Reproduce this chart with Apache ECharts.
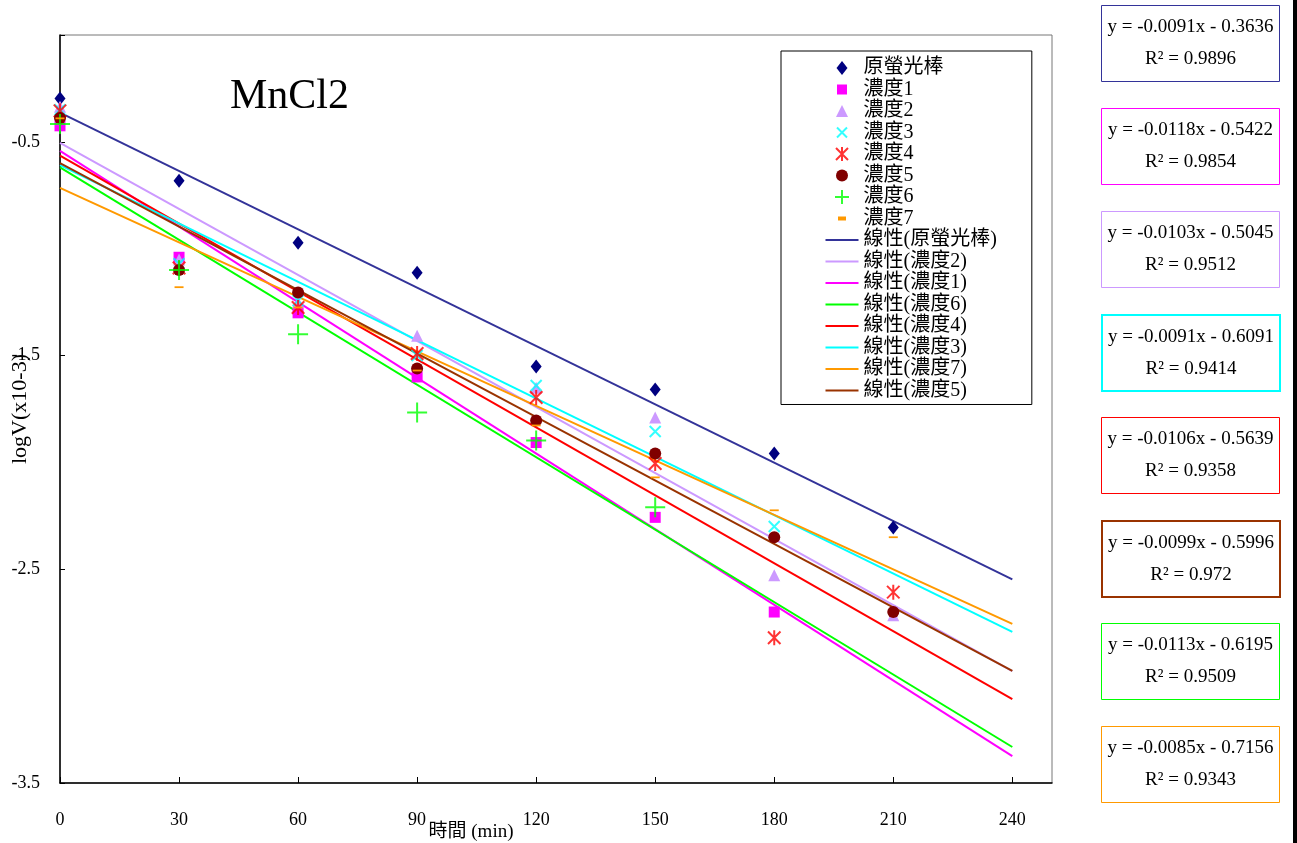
<!DOCTYPE html>
<html>
<head>
<meta charset="utf-8">
<script src="https://cdn.jsdelivr.net/npm/echarts@6/dist/echarts.min.js"></script>
<style>
  html, body { margin: 0; padding: 0; background: #fff; }
  #chart { width: 1297px; height: 843px; }
</style>
</head>
<body>
<div id="chart"></div>
<script>
var FONT = "'Liberation Serif', 'Noto Sans CJK TC', serif"

// 測定時間 (min)
var times = [0, 30, 60, 90, 120, 150, 180, 210]
var names = ['原螢光棒', '濃度1', '濃度2', '濃度3', '濃度4', '濃度5', '濃度6', '濃度7']
// logV values
var v0 = [-0.297, -0.682, -0.972, -1.112, -1.551, -1.659, -1.958, -2.304]
var v1 = [-0.425, -1.04, -1.30, -1.60, -1.907, -2.257, -2.70]
var v2 = [-0.336, -1.05, -1.25, -1.407, -1.65, -1.79, -2.528, -2.715]
var v3 = [-0.35, -1.07, -1.243, -1.50, -1.64, -1.855, -2.30]
var v4 = [-0.355, -1.09, -1.275, -1.49, -1.696, -2.005, -2.82, -2.607]
var v5 = [-0.388, -1.10, -1.205, -1.56, -1.804, -1.958, -2.35, -2.70]
var v6 = [-0.416, -1.10, -1.40, -1.766, -1.897, -2.21]
var v7 = [-0.39, -1.18, -1.275, -1.57, -1.827, -2.07, -2.224, -2.35]
var values = [v0, v1, v2, v3, v4, v5, v6, v7]

// trend lines (from the equation boxes)
var slopes = [-0.0091, -0.0118, -0.0103, -0.0091, -0.0106, -0.0099, -0.0113, -0.0085]
var intercepts = [-0.3636, -0.5422, -0.5045, -0.6091, -0.5639, -0.5996, -0.6195, -0.7156]
var r2 = [0.9896, 0.9854, 0.9512, 0.9414, 0.9358, 0.972, 0.9509, 0.9343]
var trendStart = 0
var trendEnd = 240
var trendOrder = [0, 2, 1, 6, 4, 3, 7, 5]

var xTicks = [0, 30, 60, 90, 120, 150, 180, 210, 240]
var yTicks = [-3.5, -2.5, -1.5, -0.5]

var markColors = ['#000080', '#FF00FF', '#CC99FF', '#00FFFF', '#FF0000', '#800000', '#00FF00', '#FF9900']
var lineColors = ['#333399', '#FF00FF', '#CC99FF', '#00FFFF', '#FF0000', '#993300', '#00FF00', '#FF9900']
var symbols = [
  'diamond',
  'rect',
  'triangle',
  'path://M0,0L10,10M10,0L0,10',
  'path://M0,0L10,10M10,0L0,10M5,-1L5,11',
  'circle',
  'path://M5,0L5,10M0,5L10,5',
  'path://M0,0H9V4H0Z'
]
var symbolSizes = [[11, 14], 11, 12, 11, 15, 12, 20, [9, 4]]
var strokeOnly = [false, false, false, true, true, false, true, false]

// legend icons: 33x14 box (the leading moves fix the box), mark centred in it
var PAD = 'path://M0,0M33,14'
var legendIcons = [
  PAD + 'M16.5,0L22,7L16.5,14L11,7Z',
  PAD + 'M11.5,2H21.5V12H11.5Z',
  PAD + 'M16.5,1L22.5,13H10.5Z',
  PAD + 'M11.5,2L21.5,12M21.5,2L11.5,12',
  PAD + 'M10.5,1L22.5,13M22.5,1L10.5,13M16.5,0L16.5,14',
  PAD + 'M22.5,7A6,6,0,1,1,10.5,7A6,6,0,1,1,22.5,7Z',
  PAD + 'M16.5,0V14M9.5,7H23.5',
  PAD + 'M12.5,5H20.5V9H12.5Z'
]
var lineIcon = PAD + 'M0,6H33V8H0Z'

var chart = echarts.init(document.getElementById('chart'))

var series = []
names.forEach(function(name, i) {
  series.push({
    name: name,
    type: 'scatter',
    symbol: symbols[i],
    symbolSize: symbolSizes[i],
    symbolKeepAspect: true,
    z: 3,
    itemStyle: strokeOnly[i]
      ? { color: 'none', borderColor: markColors[i], borderWidth: 2 }
      : { color: markColors[i], opacity: 1 },
    data: values[i].map(function(v, k) { return [times[k], v] })
  })
})
trendOrder.forEach(function(i) {
  series.push({
    name: '線性(' + names[i] + ')',
    type: 'line',
    symbol: 'none',
    z: 2,
    lineStyle: { color: lineColors[i], width: 2 },
    itemStyle: { color: lineColors[i] },
    data: [trendStart, trendEnd].map(function(x) {
      return [x, intercepts[i] + slopes[i] * x]
    })
  })
})

var legendData = names.map(function(name, i) {
  return { name: name, icon: legendIcons[i] }
}).concat(trendOrder.map(function(i) {
  return { name: '線性(' + names[i] + ')', icon: lineIcon }
}))

var graphics = [
  {
    type: 'text',
    left: 230,
    top: 76,
    style: { text: 'MnCl2', font: '42px ' + FONT, fill: '#000' }
  },
  {
    type: 'rect',
    shape: { x: 1293, y: 0, width: 4, height: 843 },
    style: { fill: '#000' }
  }
]
// equation boxes on the right
names.forEach(function(name, i) {
  var top = 5 + i * 103
  var eq = 'y = ' + slopes[i].toFixed(4) + 'x - ' + Math.abs(intercepts[i]).toFixed(4)
  graphics.push({
    type: 'group',
    left: 1101,
    top: top,
    children: [
      {
        type: 'rect',
        shape: { x: 0, y: 0, width: 178, height: 76 },
        style: { fill: '#fff', stroke: lineColors[i], lineWidth: (i === 3 || i === 5) ? 2 : 1 }
      },
      {
        type: 'text',
        x: 89,
        y: 22,
        style: { text: eq, font: '19px ' + FONT, fill: '#000', align: 'center', verticalAlign: 'middle' }
      },
      {
        type: 'text',
        x: 89,
        y: 54,
        style: { text: 'R² = ' + r2[i], font: '19px ' + FONT, fill: '#000', align: 'center', verticalAlign: 'middle' }
      }
    ]
  })
})

var option = {
  animation: false,
  backgroundColor: '#fff',
  textStyle: { fontFamily: FONT },
  grid: {
    left: 60,
    top: 35,
    right: 245,
    bottom: 60,
    containLabel: false,
    outerBoundsMode: 'none',
    show: true,
    borderColor: '#777',
    borderWidth: 1
  },
  legend: {
    data: legendData,
    orient: 'vertical',
    left: 781,
    top: 51,
    padding: [7, 35, 4, 42],
    itemWidth: 33,
    itemHeight: 14,
    itemGap: 1.5,
    symbolKeepAspect: true,
    selectedMode: false,
    backgroundColor: '#fff',
    borderColor: '#000',
    borderWidth: 1,
    textStyle: { fontFamily: FONT, fontSize: 20, color: '#000' }
  },
  xAxis: {
    type: 'value',
    min: 0,
    max: 250,
    interval: 30,
    name: '時間 (min)',
    nameLocation: 'middle',
    nameGap: 40,
    nameMoveOverlap: false,
    nameTextStyle: { fontFamily: FONT, fontSize: 19, color: '#000', padding: [0, 170, 0, 0] },
    axisLine: { onZero: false, lineStyle: { color: '#000', width: 1.5 } },
    axisTick: { inside: true, length: 6, lineStyle: { color: '#000' } },
    axisLabel: {
      margin: 28,
      fontFamily: FONT,
      fontSize: 18,
      color: '#000',
      showMaxLabel: false,
      formatter: function(v) { return xTicks.indexOf(v) >= 0 ? String(v) : '' }
    },
    splitLine: { show: false }
  },
  yAxis: {
    type: 'value',
    min: -3.5,
    max: 0,
    interval: 1,
    name: 'logV(x10-3)',
    nameLocation: 'middle',
    nameGap: 29,
    nameMoveOverlap: false,
    nameTextStyle: { fontFamily: FONT, fontSize: 22, color: '#000' },
    axisLine: { lineStyle: { color: '#000', width: 1.5 } },
    axisTick: { inside: true, length: 5, lineStyle: { color: '#000' } },
    axisLabel: {
      margin: 20,
      fontFamily: FONT,
      fontSize: 18,
      color: '#000',
      formatter: function(v) { return yTicks.indexOf(v) >= 0 ? String(v) : '' }
    },
    splitLine: { show: false }
  },
  graphic: graphics,
  series: series
}

chart.setOption(option)
</script>
</body>
</html>
